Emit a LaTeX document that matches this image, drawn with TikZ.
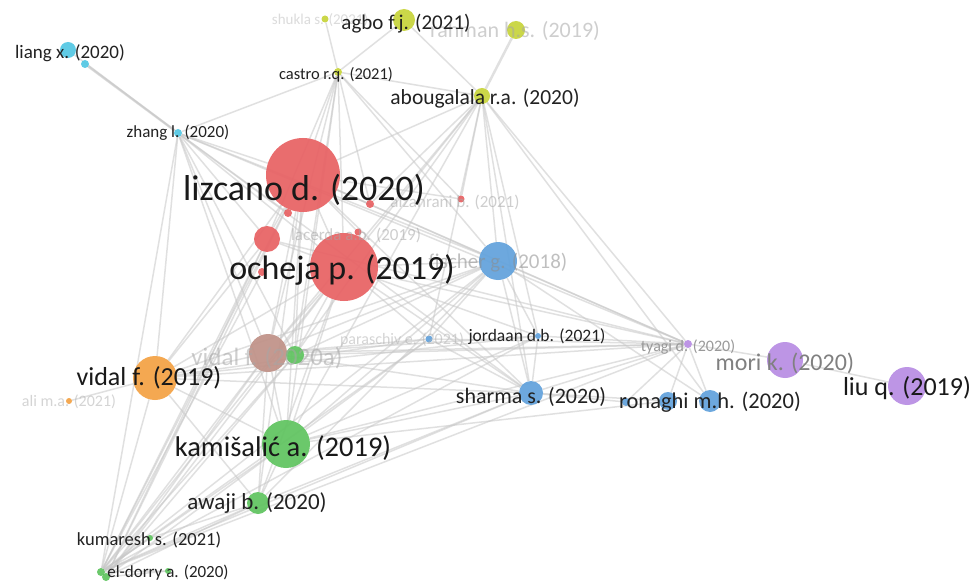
\documentclass[tikz,border=0pt]{standalone}
\usepackage{fontspec}
\setmainfont{Carlito}
\pgfdeclarelayer{back}
\pgfdeclarelayer{bg}
\pgfsetlayers{back,bg,main}
\definecolor{cred}{RGB}{232,98,100}
\definecolor{cblue}{RGB}{98,162,220}
\definecolor{cgreen}{RGB}{96,196,96}
\definecolor{cyel}{RGB}{200,212,60}
\definecolor{ccyan}{RGB}{84,200,228}
\definecolor{cpurp}{RGB}{184,142,228}
\definecolor{corange}{RGB}{244,162,68}
\definecolor{cbrown}{RGB}{192,146,136}
\definecolor{cedge}{RGB}{200,200,200}
\definecolor{tdark}{RGB}{34,34,34}
\begin{document}
\begin{tikzpicture}[x=1pt,y=-1pt,
  bub/.style={circle,inner sep=0pt,minimum size={2*#1},fill opacity=0.93},
  lab/.style={inner sep=0pt,text=tdark,font=\fontsize{#1pt}{#1pt}\selectfont},
  faint/.style={text opacity=0.55},
  edge/.style={draw=cedge,line width=1.5pt,opacity=0.55}]
\begin{pgfonlayer}{back}
\fill[white] (0,0) rectangle (979,588);
\end{pgfonlayer}
\useasboundingbox (0,0) rectangle (979,588);
% bubbles
\node[bub=8,fill=ccyan] (liangA) at (68,50) {};
\node[bub=4,fill=ccyan] (liangB) at (85,64) {};
\node[bub=4,fill=ccyan] (zhang) at (178,133) {};
\node[bub=3.5,fill=cyel] (shukla) at (325,19) {};
\node[bub=11,fill=cyel] (agbo) at (404,20) {};
\node[bub=9,fill=cyel] (rahman) at (516,30) {};
\node[bub=4,fill=cyel] (castro) at (338,72) {};
\node[bub=8,fill=cyel] (abou) at (482,96) {};
\node[bub=37,fill=cred] (lizc) at (303,175) {};
\node[bub=34,fill=cred] (ocheja) at (344,267) {};
\node[bub=13,fill=cred] (redA) at (267,239) {};
\node[bub=4,fill=cred] (redB) at (288,213) {};
\node[bub=4,fill=cred] (redC) at (370,204) {};
\node[bub=3.5,fill=cred] (alzah) at (461,199) {};
\node[bub=3.5,fill=cred] (lacer) at (358,232) {};
\node[bub=4,fill=cred] (redD) at (262,272) {};
\node[bub=19,fill=cblue] (fischer) at (498,261) {};
\node[bub=3.5,fill=cblue] (parasch) at (429,339) {};
\node[bub=3,fill=cblue] (jordaan) at (538,336) {};
\node[bub=12,fill=cblue] (sharma) at (531,393) {};
\node[bub=4,fill=cblue] (blueS) at (626,402) {};
\node[bub=9,fill=cblue] (ronA) at (668,401) {};
\node[bub=11,fill=cblue] (ronB) at (710,401) {};
\node[bub=4,fill=cpurp] (tyagi) at (688,344) {};
\node[bub=18,fill=cpurp] (mori) at (785,360) {};
\node[bub=19,fill=cpurp] (liu) at (907,386) {};
\node[bub=22,fill=corange] (vidal) at (155,378) {};
\node[bub=3,fill=corange] (ali) at (69,401) {};
\node[bub=19,fill=cbrown] (brown) at (268,353) {};
\node[bub=9,fill=cgreen] (greenS) at (295,355) {};
\node[bub=24,fill=cgreen] (kamis) at (286,444) {};
\node[bub=11,fill=cgreen] (awaji) at (258,503) {};
\node[bub=3,fill=cgreen] (kumar) at (150,538) {};
\node[bub=4,fill=cgreen] (eldA) at (101,572) {};
\node[bub=4,fill=cgreen] (eldB) at (106,577) {};
\node[bub=3,fill=cgreen] (eldC) at (168,571) {};
% edges
\begin{pgfonlayer}{bg}
\foreach \a/\b in {liangA/zhang,liangB/zhang,zhang/castro,zhang/lizc,zhang/ocheja,zhang/redA,zhang/redB,zhang/brown,zhang/kamis,zhang/vidal,zhang/greenS,zhang/eldA,zhang/fischer,zhang/tyagi,zhang/sharma,
 castro/shukla,castro/agbo,castro/abou,castro/lizc,castro/ocheja,castro/redA,castro/brown,castro/kamis,castro/greenS,castro/alzah,castro/redC,castro/fischer,
 abou/agbo,abou/lizc,abou/ocheja,abou/fischer,abou/sharma,abou/jordaan,abou/brown,abou/kamis,abou/tyagi,abou/alzah,abou/parasch,abou/redC,abou/greenS,abou/ronB,
 tyagi/lizc,tyagi/ocheja,tyagi/fischer,tyagi/sharma,tyagi/ronA,tyagi/ronB,tyagi/mori,tyagi/brown,tyagi/vidal,tyagi/parasch,tyagi/kamis,tyagi/jordaan,tyagi/redA,tyagi/eldA,tyagi/greenS,tyagi/blueS,mori/liu,
 vidal/ali,vidal/lizc,vidal/ocheja,vidal/brown,vidal/kamis,vidal/fischer,vidal/parasch,vidal/jordaan,vidal/redA,vidal/eldA,vidal/awaji,vidal/sharma,
 eldA/lizc,eldA/ocheja,eldA/redA,eldA/redD,eldA/brown,eldA/greenS,eldA/kamis,eldA/awaji,eldA/kumar,eldA/eldC,eldA/fischer,eldA/sharma,eldA/jordaan,eldA/parasch,
 eldB/lizc,eldB/ocheja,eldB/brown,eldB/kamis,eldB/awaji,eldB/greenS,eldB/redA,eldB/eldC,
 brown/lizc,brown/ocheja,brown/fischer,brown/parasch,brown/jordaan,brown/sharma,brown/kamis,brown/greenS,brown/awaji,
 kamis/lizc,kamis/ocheja,kamis/fischer,kamis/sharma,kamis/parasch,kamis/awaji,kamis/jordaan,kamis/ronA,
 sharma/fischer,sharma/blueS,sharma/lizc,sharma/ocheja,sharma/parasch,sharma/jordaan,sharma/ronA,
 fischer/lizc,fischer/ocheja,fischer/parasch,fischer/jordaan,fischer/ronB,
 lizc/ocheja,lizc/redA,lizc/redB,lizc/redC,lizc/alzah,lizc/lacer,
 ocheja/redA,ocheja/lacer,ocheja/parasch,ocheja/jordaan,
 awaji/ocheja,awaji/lizc,awaji/fischer,awaji/sharma,awaji/kumar,greenS/ocheja,greenS/lizc,greenS/fischer}
 \draw[edge] (\a) -- (\b);
\draw[edge,line width=2.5pt] (abou) -- (rahman);
\draw[edge,line width=2.5pt] (liangB) -- (zhang);
\end{pgfonlayer}
% faint labels
\node[lab=15,faint,text=gray!50] (Lshukla) at (320,20) {shukla s. (2021)};
\node[lab=22,faint,text=gray!70] (Lrahman) at (515,31) {rahman h.s. (2019)};
\node[lab=17,faint,text=gray!70] (Lalzah) at (455,202) {alzahrani b. (2021)};
\node[lab=17,faint,text=gray!70] (Llacer) at (356,235) {lacerda a.b. (2019)};
\node[lab=21,faint,text=gray!90] (Lfischer) at (498,263) {fischer g. (2018)};
\node[lab=25,faint,text=gray!70] (Lvidal2) at (267,358) {vidal f. (2020a)};
\node[lab=16,faint,text=gray!60] (Lali) at (69,402) {ali m.a. (2021)};
\node[lab=16,faint,text=gray!60] (Lparasch) at (402,340) {paraschiv e. (2021)};
\node[lab=16,text=gray!80] (Ltyagi) at (688,347) {tyagi d. (2020)};
\node[lab=24,text=gray] (Lmori) at (785,363) {mori k. (2020)};
% dark labels
\node[lab=19] (Lliang) at (70,53) {liang x. (2020)};
\node[lab=17] (Lzhang) at (178,133) {zhang l. (2020)};
\node[lab=21] (Lagbo) at (406,24) {agbo f.j. (2021)};
\node[lab=16.5] (Lcastro) at (336,75) {castro r.q. (2021)};
\node[lab=21.5] (Labou) at (485,98) {abougalala r.a. (2020)};
\node[lab=36,text=black!90] (Llizc) at (304,190) {lizcano d. (2020)};
\node[lab=34,text=black!90] (Locheja) at (342,270) {ocheja p. (2019)};
\node[lab=26,text=black!90] (Lvidal) at (149,378) {vidal f. (2019)};
\node[lab=28.5,text=black!90] (Lkamis) at (283,448) {kamišalić a. (2019)};
\node[lab=17.5] (Ljordaan) at (537,337) {jordaan d.b. (2021)};
\node[lab=26,text=black!90] (Lliu) at (907,388) {liu q. (2019)};
\node[lab=22,text=tdark] (Lsharma) at (531,397) {sharma s. (2020)};
\node[lab=22.5] (Lronaghi) at (710,402) {ronaghi m.h. (2020)};
\node[lab=23] (Lawaji) at (257,503) {awaji b. (2020)};
\node[lab=18.5] (Lkumar) at (149,540) {kumaresh s. (2021)};
\node[lab=17] (Leld) at (168,573) {el-dorry a. (2020)};
\end{tikzpicture}
\end{document}
